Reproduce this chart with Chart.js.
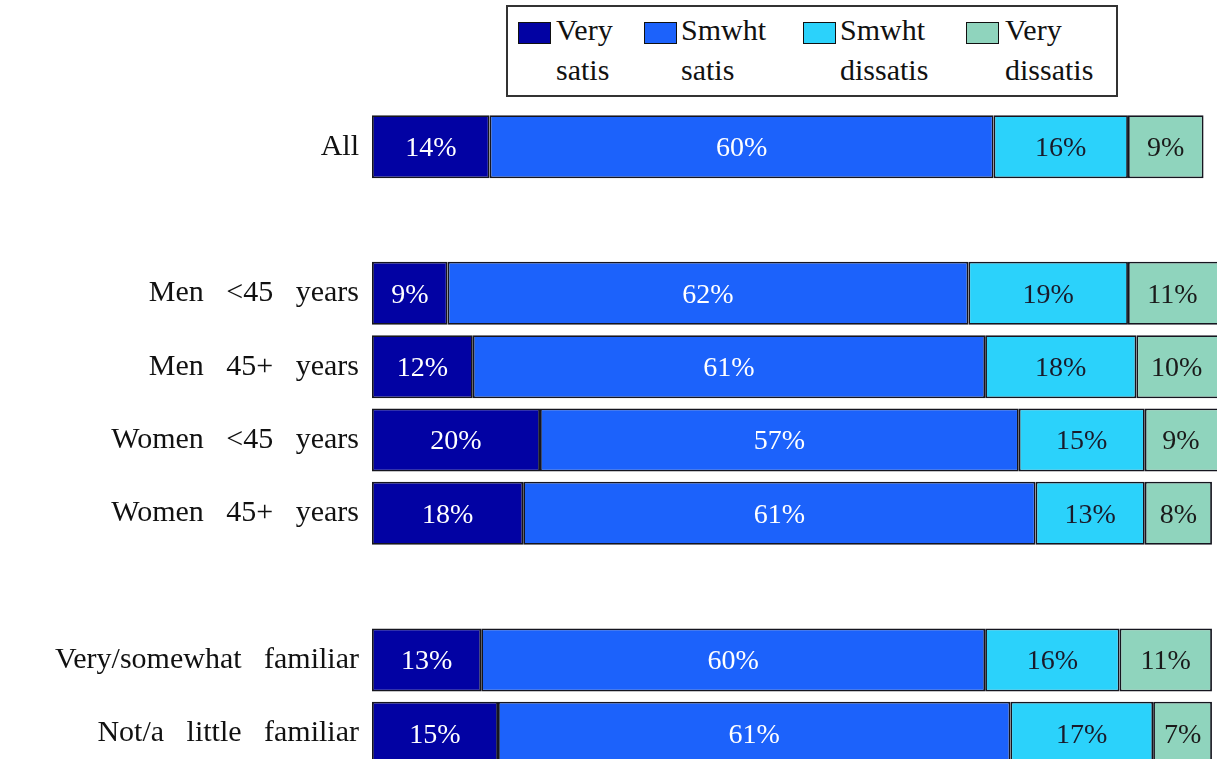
<!DOCTYPE html>
<html lang="en">
<head>
    <meta charset="UTF-8">
    <title>Satisfaction by group</title>
    <script src="https://cdn.jsdelivr.net/npm/chart.js"></script>
    <style>
        body {
            margin: 0;
            background: #ffffff;
            width: 1217px;
            height: 759px;
            overflow: hidden;
            position: relative;
            font-family: 'Liberation Serif', 'DejaVu Serif', serif;
            color: #111;
        }
        .chart-box {
            position: absolute;
            left: 0;
            top: 0;
            width: 1217px;
            height: 801px;
        }
        .legend {
            position: absolute;
            left: 506px;
            top: 5px;
            width: 608px;
            height: 88px;
            border: 2px solid #333;
            background: #fff;
        }
        .legend-item {
            position: absolute;
            top: 0;
        }
        .swatch {
            position: absolute;
            top: 15px;
            width: 31px;
            height: 20px;
            border: 1px solid #111;
        }
        .legend-text {
            position: absolute;
            top: 3px;
            font-size: 30px;
            line-height: 40px;
            white-space: nowrap;
        }
    </style>
</head>
<body>
    <div class="chart-box">
        <canvas id="barChart"></canvas>
    </div>
    <div class="legend" id="legend"></div>

    <script>
        // categories (empty strings are the gaps between groups)
        const categories = [
            'All',
            '',
            'Men   <45   years',
            'Men   45+   years',
            'Women   <45   years',
            'Women   45+   years',
            '',
            'Very/somewhat   familiar',
            'Not/a   little   familiar'
        ];

        const seriesNames = [['Very', 'satis'], ['Smwht', 'satis'], ['Smwht', 'dissatis'], ['Very', 'dissatis']];

        const verySatis     = [14, null, 9, 12, 20, 18, null, 13, 15];
        const smwhtSatis    = [60, null, 62, 61, 57, 61, null, 60, 61];
        const smwhtDissatis = [16, null, 19, 18, 15, 13, null, 16, 17];
        const veryDissatis  = [9, null, 11, 10, 9, 8, null, 11, 7];

        const colors = ['#0202a3', '#1c62fb', '#2bd2fb', '#8fd4bd'];
        const labelColors = ['#ffffff', '#ffffff', '#1a1a2a', '#1a1a1a'];

        // legend (html, two lines per item)
        const legendX = [10, 136, 295, 458];
        const legendTextX = [48, 173, 332, 497];
        const legendEl = document.getElementById('legend');
        seriesNames.forEach((name, i) => {
            const item = document.createElement('div');
            item.className = 'legend-item';
            const sw = document.createElement('div');
            sw.className = 'swatch';
            sw.style.left = legendX[i] + 'px';
            sw.style.background = colors[i];
            const txt = document.createElement('div');
            txt.className = 'legend-text';
            txt.style.left = legendTextX[i] + 'px';
            txt.innerHTML = name[0] + '<br>' + name[1];
            item.appendChild(sw);
            item.appendChild(txt);
            legendEl.appendChild(item);
        });

        // percent labels inside each segment
        const segmentLabels = {
            id: 'segmentLabels',
            afterDatasetsDraw(chart) {
                const ctx = chart.ctx;
                ctx.save();
                ctx.font = '28px "Liberation Serif", "DejaVu Serif", serif';
                ctx.textAlign = 'center';
                ctx.textBaseline = 'middle';
                chart.data.datasets.forEach((ds, i) => {
                    const meta = chart.getDatasetMeta(i);
                    meta.data.forEach((bar, j) => {
                        const v = ds.data[j];
                        if (v === null || v === undefined) return;
                        const left = bar.base;
                        const right = Math.min(bar.x, chart.chartArea.right);
                        ctx.fillStyle = labelColors[i];
                        ctx.fillText(v + '%', (left + right) / 2, bar.y + 2);
                    });
                });
                ctx.restore();
            }
        };

        const datasetValues = [verySatis, smwhtSatis, smwhtDissatis, veryDissatis];

        new Chart(document.getElementById('barChart').getContext('2d'), {
            type: 'bar',
            data: {
                labels: categories,
                datasets: datasetValues.map((vals, i) => ({
                    label: seriesNames[i].join(' '),
                    data: vals,
                    backgroundColor: colors[i],
                    borderColor: '#15151f',
                    borderWidth: 1.8,
                    borderSkipped: false,
                    categoryPercentage: 1.0,
                    barPercentage: 0.86
                }))
            },
            options: {
                indexAxis: 'y',
                responsive: true,
                maintainAspectRatio: false,
                animation: false,
                layout: {
                    padding: { top: 110, bottom: 3, left: 0, right: 0 }
                },
                scales: {
                    x: {
                        stacked: true,
                        display: false,
                        min: 0,
                        max: 100.6
                    },
                    y: {
                        stacked: true,
                        grid: { display: false, drawTicks: false },
                        border: { display: false },
                        ticks: {
                            padding: 13,
                            color: '#111',
                            autoSkip: false,
                            font: { family: '"Liberation Serif", "DejaVu Serif", serif', size: 30 }
                        },
                        afterFit(scale) {
                            scale.width = 372;
                        }
                    }
                },
                plugins: {
                    legend: { display: false },
                    tooltip: { enabled: false }
                }
            },
            plugins: [segmentLabels]
        });
    </script>
</body>
</html>
